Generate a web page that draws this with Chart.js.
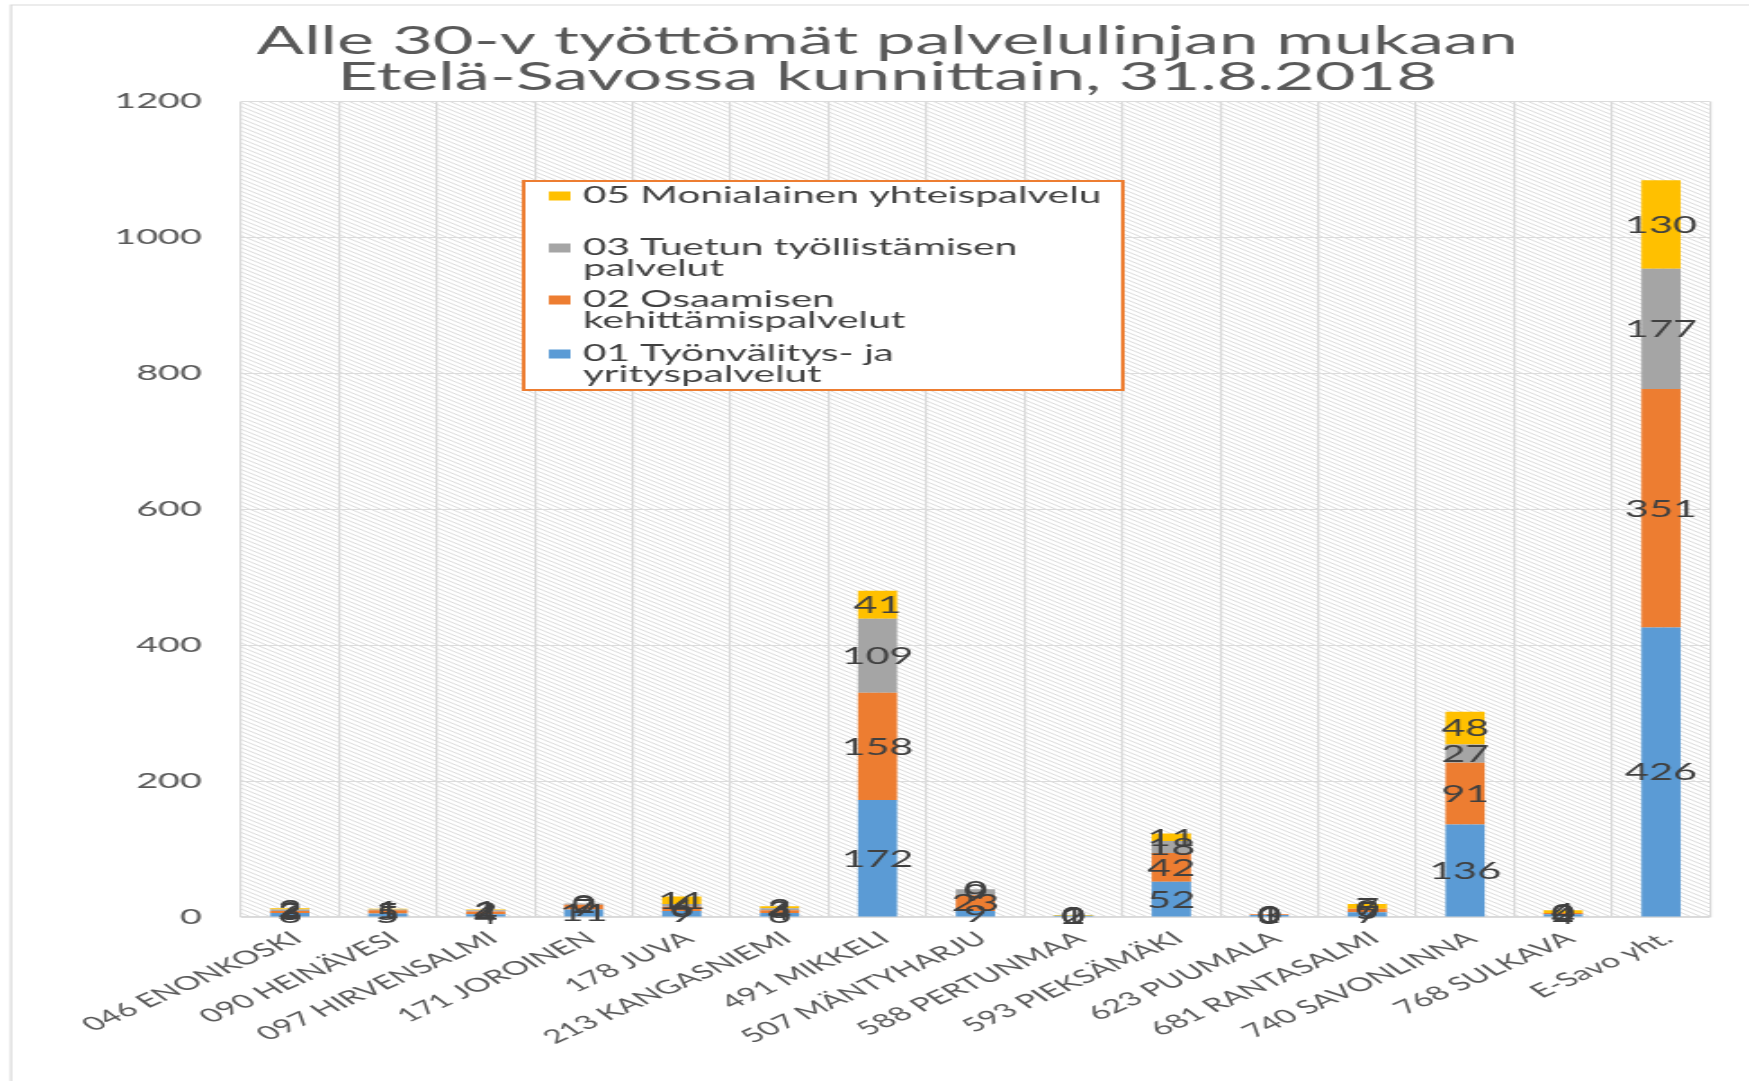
<!DOCTYPE html>
<html>
<head>
<meta charset="utf-8">
<script src="https://cdn.jsdelivr.net/npm/chart.js@4.4.1/dist/chart.umd.min.js"></script>
<style>
  html, body { margin: 0; padding: 0; background: #fff; overflow: hidden; }
  /* the original is a horizontally stretched export, so the chart is drawn narrow and stretched */
  #wrap {
    position: absolute; left: 0; top: 0;
    width: 972px; height: 1081px;
    transform: scaleX(1.79938); transform-origin: 0 0;
  }
</style>
</head>
<body>
<div id="wrap"><canvas id="chart"></canvas></div>
<script>
/* ================= DATA ================= */

const titleLines = [
  "Alle 30-v työttömät palvelulinjan mukaan",
  "Etelä-Savossa kunnittain, 31.8.2018"
];

const municipalities = [
  "046 ENONKOSKI", "090 HEINÄVESI", "097 HIRVENSALMI", "171 JOROINEN",
  "178 JUVA", "213 KANGASNIEMI", "491 MIKKELI", "507 MÄNTYHARJU",
  "588 PERTUNMAA", "593 PIEKSÄMÄKI", "623 PUUMALA", "681 RANTASALMI",
  "740 SAVONLINNA", "768 SULKAVA", "E-Savo yht."
];

const seriesNames = [
  "01 Työnvälitys- ja yrityspalvelut",
  "02 Osaamisen kehittämispalvelut",
  "03 Tuetun työllistämisen palvelut",
  "05 Monialainen yhteispalvelu"
];

// legend text as it wraps in the box (top entry first)
const legendLines = [
  ["05 Monialainen yhteispalvelu"],
  ["03 Tuetun työllistämisen", "palvelut"],
  ["02 Osaamisen", "kehittämispalvelut"],
  ["01 Työnvälitys- ja", "yrityspalvelut"]
];

const tyonvalitys = [6, 5, 4, 11, 9, 6, 172, 9, 2, 52, 3, 7, 136, 4, 426];
const osaaminen   = [3, 5, 4, 7, 6, 4, 158, 23, 0, 42, 1, 5, 91, 2, 351];
const tuettu      = [2, 1, 2, 2, 4, 3, 109, 9, 0, 18, 0, 0, 27, 0, 177];
const monialainen = [2, 1, 1, 0, 11, 3, 41, 0, 1, 11, 0, 7, 48, 4, 130];

const yTicks = [0, 200, 400, 600, 800, 1000, 1200];

const colors = ["#5b9bd5", "#ed7d31", "#a5a5a5", "#ffc000"];

/* ================= PLUGINS ================= */

// white page, thin frame, title and the hatched plot background
const backdrop = {
  id: "backdrop",
  beforeDraw(chart) {
    const { ctx, width, height, chartArea: a } = chart;
    ctx.save();
    ctx.fillStyle = "#fff";
    ctx.fillRect(0, 0, width, height);

    ctx.strokeStyle = "#d9d9d9";
    ctx.lineWidth = 1.2;
    ctx.beginPath();
    ctx.moveTo(6.1, height);
    ctx.lineTo(6.1, 5);
    ctx.lineTo(width, 5);
    ctx.stroke();

    // title (centred a little right of the canvas middle, as in the original)
    ctx.font = "39px Lato";
    ctx.fillStyle = "#595959";
    ctx.textAlign = "center";
    ctx.textBaseline = "middle";
    titleLines.forEach((line, i) => ctx.fillText(line, 493, 41 + i * 36));

    ctx.beginPath();
    ctx.rect(a.left, a.top, a.right - a.left, a.bottom - a.top);
    ctx.clip();
    ctx.strokeStyle = "#d2d2d2";
    ctx.lineWidth = 0.8;
    const h = a.bottom - a.top;
    const run = h / 0.72;
    ctx.beginPath();
    for (let x = a.left - run; x < a.right; x += 5.6) {
      ctx.moveTo(x, a.top);
      ctx.lineTo(x + run, a.bottom);
    }
    ctx.stroke();
    ctx.restore();
  }
};

// value labels in the middle of every segment
const segmentLabels = {
  id: "segmentLabels",
  afterDatasetsDraw(chart) {
    const { ctx } = chart;
    ctx.save();
    ctx.font = "23px Lato";
    ctx.fillStyle = "#404040";
    ctx.textAlign = "center";
    ctx.textBaseline = "middle";
    chart.data.datasets.forEach((ds, i) => {
      chart.getDatasetMeta(i).data.forEach((bar, j) => {
        ctx.fillText(String(ds.data[j]), bar.x, (bar.y + bar.base) / 2 + 1);
      });
    });
    ctx.restore();
  }
};

// boxed legend sitting inside the plot
const boxLegend = {
  id: "boxLegend",
  afterDraw(chart) {
    const { ctx } = chart;
    const box = { x: 291, y: 181, w: 333, h: 209 };
    const rows = [196, 248, 300, 354];
    const order = [3, 2, 1, 0];
    ctx.save();
    ctx.fillStyle = "#fff";
    ctx.fillRect(box.x, box.y, box.w, box.h);
    ctx.strokeStyle = "#ed7d31";
    ctx.lineWidth = 2;
    ctx.strokeRect(box.x, box.y, box.w, box.h);

    ctx.font = "22.5px Lato";
    ctx.textBaseline = "middle";
    order.forEach((dsIndex, k) => {
      const y = rows[k];
      ctx.fillStyle = chart.data.datasets[dsIndex].backgroundColor;
      ctx.fillRect(305, y - 4.5, 12, 9);
      ctx.fillStyle = "#404040";
      legendLines[k].forEach((line, n) => {
        ctx.fillText(line, 324, y + n * 21);
      });
    });
    ctx.restore();
  }
};

/* ================= CHART ================= */

new Chart(document.getElementById("chart"), {
  type: "bar",
  data: {
    labels: municipalities,
    datasets: [tyonvalitys, osaaminen, tuettu, monialainen].map((values, i) => ({
      label: seriesNames[i],
      data: values,
      backgroundColor: colors[i],
      borderWidth: 0,
      barPercentage: 0.4,
      categoryPercentage: 1
    }))
  },
  options: {
    responsive: true,
    maintainAspectRatio: false,
    animation: false,
    layout: { padding: { left: 0, right: 21.7, top: 101.5, bottom: 0 } },
    plugins: {
      legend: { display: false },
      tooltip: { enabled: false },
      title: { display: false }
    },
    scales: {
      x: {
        stacked: true,
        grid: { color: "#d9d9d9", lineWidth: 1.2, drawTicks: false },
        border: { color: "#d9d9d9", width: 1.2 },
        ticks: {
          color: "#595959",
          font: { family: "Lato", size: 19 },
          minRotation: 38,
          maxRotation: 38,
          autoSkip: false,
          padding: 10,
          labelOffset: 4
        },
        afterFit(scale) { scale.height = 164; }
      },
      y: {
        stacked: true,
        min: 0,
        max: 1200,
        afterBuildTicks(scale) { scale.ticks = yTicks.map(v => ({ value: v })); },
        grid: { color: "#dcdcdc", lineWidth: 1, drawTicks: false },
        border: { display: false },
        ticks: {
          color: "#595959",
          font: { family: "Lato", size: 21 },
          padding: 21.7,
          callback: v => String(v)
        },
        afterFit(scale) { scale.width = 133.9; }
      }
    }
  },
  plugins: [backdrop, segmentLabels, boxLegend]
});
</script>
</body>
</html>
